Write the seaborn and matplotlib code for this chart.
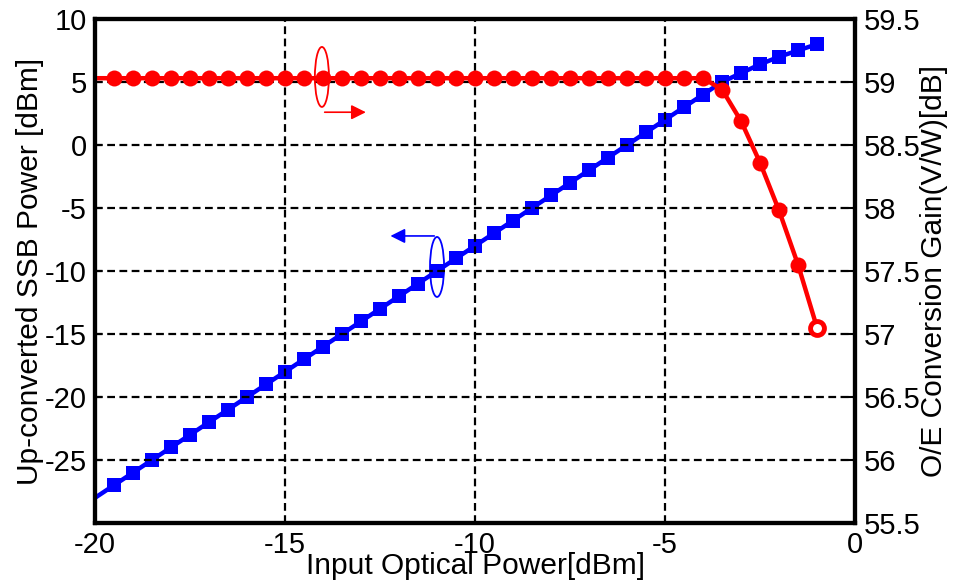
import numpy as np
import pandas as pd
import seaborn as sns
import matplotlib.pyplot as plt
from matplotlib.patches import Ellipse

# input optical power, 0.5 dB steps
power_in = [-20, -19.5, -19, -18.5, -18, -17.5, -17, -16.5, -16, -15.5,
            -15, -14.5, -14, -13.5, -13, -12.5, -12, -11.5, -11, -10.5,
            -10, -9.5, -9, -8.5, -8, -7.5, -7, -6.5, -6, -5.5,
            -5, -4.5, -4, -3.5, -3, -2.5, -2, -1.5, -1]

ssb_power = [-28, -27, -26, -25, -24, -23, -22, -21, -20, -19,
             -18, -17, -16, -15, -14, -13, -12, -11, -10, -9,
             -8, -7, -6, -5, -4, -3, -2, -1, 0, 1,
             2, 3, 4, 5.0, 5.7, 6.4, 7.0, 7.5, 8.0]

oe_gain = [59.03] * 33 + [58.94, 58.69, 58.36, 57.98, 57.55, 57.05]

df = pd.DataFrame({'pin': power_in, 'ssb': ssb_power, 'gain': oe_gain})

sns.set_style('white')
plt.rcParams['font.family'] = ['Liberation Sans', 'DejaVu Sans']
plt.rcParams['axes.unicode_minus'] = False
plt.rcParams['text.color'] = 'black'
plt.rcParams['axes.labelcolor'] = 'black'
plt.rcParams['xtick.color'] = 'black'
plt.rcParams['ytick.color'] = 'black'

fig = plt.figure(figsize=(9.62, 5.82), dpi=100)
ax = fig.add_axes([0.0988, 0.1014, 0.79, 0.866])
ax2 = ax.twinx()

marks = list(range(1, len(df)))
sns.lineplot(data=df, x='pin', y='ssb', ax=ax, color='#0000ff', lw=3.2,
             marker='s', markersize=10, markeredgewidth=0, markevery=marks)
sns.lineplot(data=df, x='pin', y='gain', ax=ax2, color='#ff0000', lw=3.2,
             marker='o', markersize=11.5, markeredgewidth=0,
             markevery=marks[:-1])
# last point drawn hollow, as in the original
last = df.iloc[[-1]]
ax2.plot(last['pin'], last['gain'], 'o', color='#ff0000', markersize=10,
         markerfacecolor='white', markeredgewidth=3.5)

ax.set_xlim(-20, 0)
ax.set_ylim(-30, 10)
ax2.set_ylim(55.5, 59.5)
ax.set_xticks([-20, -15, -10, -5, 0])
ax.set_yticks([-25, -20, -15, -10, -5, 0, 5, 10])
ax2.set_yticks(np.arange(55.5, 59.51, 0.5))
ax2.set_yticklabels(['55.5', '56', '56.5', '57', '57.5', '58', '58.5', '59', '59.5'])

ax.grid(True, color='black', lw=1.6, linestyle=(0, (3.5, 2)))
ax.set_axisbelow(False)

for a in (ax, ax2):
    a.tick_params(direction='in', length=5, width=1.5, labelsize=21, pad=6)
    for s in a.spines.values():
        s.set_linewidth(3)
        s.set_color('black')
    a.set_xlabel('')
    a.set_ylabel('')

ax.tick_params(axis='x', pad=6)
ax.set_xlabel('Input Optical Power[dBm]', fontsize=21.5)
ax.xaxis.set_label_coords(0.5, -0.058)
ax.set_ylabel('Up-converted SSB Power [dBm]', fontsize=21.5)
ax.yaxis.set_label_coords(-0.067, 0.5)
ax2.set_ylabel('O/E Conversion Gain(V/W)[dB]', fontsize=21.5)
ax2.yaxis.set_label_coords(1.085, 0.5)

# axis indicators
ax2.add_patch(Ellipse((-14.03, 59.04), 0.37, 0.476, fill=False,
                      edgecolor='#ff0000', lw=1.3))
ax2.annotate('', xy=(-12.8, 58.76), xytext=(-14.03, 58.76),
             arrowprops=dict(arrowstyle='-|>', color='#ff0000', lw=1.2,
                             mutation_scale=22))
ax.add_patch(Ellipse((-11.0, -9.68), 0.37, 4.76, fill=False,
                     edgecolor='#0000ff', lw=1.3))
ax.annotate('', xy=(-12.3, -7.22), xytext=(-11.0, -7.22),
            arrowprops=dict(arrowstyle='-|>', color='#0000ff', lw=1.2,
                            mutation_scale=22))

fig.savefig('out.png', dpi=100)
